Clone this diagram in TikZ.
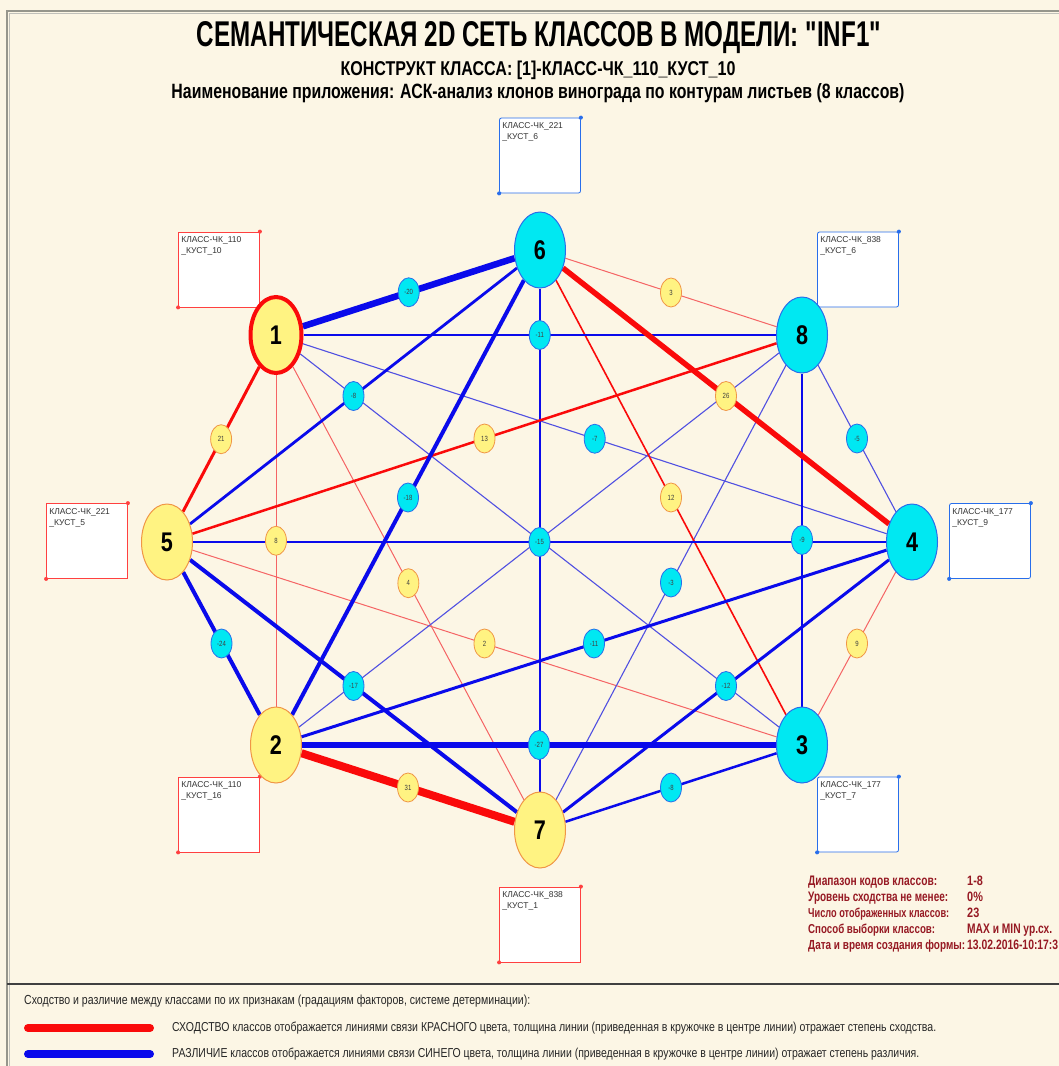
\documentclass[tikz,border=0pt]{standalone}
\usepackage{fontspec}
\usepackage{graphicx}
\setmainfont{Liberation Sans}
\newfontfamily\nar[FakeStretch=0.8]{Liberation Sans}
\newcommand\sqq{\XeTeXglyph\XeTeXcharglyph"22\relax}
\usetikzlibrary{shapes.geometric}
\pgfdeclarelayer{bgz}
\pgfdeclarelayer{edges}
\pgfsetlayers{bgz,edges,main}
\definecolor{cream}{RGB}{252,246,229}
\definecolor{ncyan}{RGB}{0,232,242}
\definecolor{nyellow}{RGB}{255,243,130}
\definecolor{lblue}{RGB}{10,10,235}
\definecolor{lred}{RGB}{250,10,10}
\definecolor{tblue}{RGB}{80,80,225}
\definecolor{tred}{RGB}{245,100,100}
\definecolor{yborder}{RGB}{240,150,70}
\definecolor{cborder}{RGB}{40,110,235}
\definecolor{dred}{RGB}{150,25,35}
\definecolor{framec}{RGB}{150,150,140}
\begin{document}
\begin{tikzpicture}[x=1pt,y=-1pt,
  big/.style={ellipse, minimum width=51pt, minimum height=76pt, inner sep=0pt, font=\fontsize{27}{27}\selectfont\nar\bfseries},
  ybig/.style={big, fill=nyellow, draw=yborder, line width=1pt},
  cbig/.style={big, fill=ncyan, draw=cborder, line width=1pt},
  lab/.style={ellipse, minimum width=21pt, minimum height=29pt, inner sep=0pt, font=\fontsize{7.5}{7.5}\selectfont\nar, text=black!75, line width=0.8pt},
  plab/.style={lab, fill=nyellow, draw=yborder},
  nlab/.style={lab, fill=ncyan, draw=cborder},
  bl/.style={draw=lblue, line width=#1},
  rl/.style={draw=lred, line width=#1},
  tbl/.style={draw=tblue, line width=1.1pt},
  trl/.style={draw=tred, line width=1pt},
  rbox/.style={draw=red!75, fill=white, line width=0.8pt, minimum width=81pt, minimum height=75pt, inner sep=0pt},
  bbox/.style={draw=cborder, fill=white, line width=0.8pt, rounded corners=2pt, minimum width=81pt, minimum height=75pt, inner sep=0pt},
  btxt/.style={anchor=north west, inner sep=0pt, xshift=3pt, yshift=-5pt, align=left, font=\fontsize{8.5}{11}\selectfont, text=black!80},
  rdot/.style={fill=red!75},
  bdot/.style={fill=cborder},
  leg/.style={anchor=base west, inner sep=0pt, text=dred},
  btm/.style={anchor=base west, inner sep=0pt, text=black!85},
]
\useasboundingbox (0,0) rectangle (1059,1066);
\begin{pgfonlayer}{bgz}
  \fill[cream] (0,0) rectangle (1059,1066);
  \draw[framec!60, line width=1pt] (9,1066) -- (9,13) -- (1059,13);
  \draw[framec, line width=2pt] (7,1066) -- (7,11) -- (1059,11);
  \draw[black!75, line width=2pt] (7,984) -- (1059,984);
\end{pgfonlayer}

% titles
\node[anchor=base, inner sep=0pt] (title) at (539,46) {\resizebox{684pt}{25pt}{\bfseries СЕМАНТИЧЕСКАЯ 2D СЕТЬ КЛАССОВ В МОДЕЛИ: \sqq INF1\sqq}};
\node[anchor=base, inner sep=0pt] (sub1) at (538,75) {\resizebox{395pt}{14.5pt}{\bfseries КОНСТРУКТ КЛАССА: [1]-КЛАСС-ЧК\_110\_КУСТ\_10}};
\node[anchor=base, inner sep=0pt] (sub2) at (538,98) {\resizebox{733pt}{15pt}{\bfseries Наименование приложения: АСК-анализ клонов винограда по контурам листьев (8 классов)}};

% label boxes
\node[bbox] (b6) at (540,155.5) {};
\node[btxt] (t6) at (b6.north west) {КЛАСС-ЧК\_221\\\_КУСТ\_6};
\node[rbox] (b1) at (219,269.5) {};
\node[btxt] (t1) at (b1.north west) {КЛАСС-ЧК\_110\\\_КУСТ\_10};
\node[bbox] (b8) at (858,269.5) {};
\node[btxt] (t8) at (b8.north west) {КЛАСС-ЧК\_838\\\_КУСТ\_6};
\node[rbox] (b5) at (87,541) {};
\node[btxt] (t5) at (b5.north west) {КЛАСС-ЧК\_221\\\_КУСТ\_5};
\node[bbox] (b4) at (990,541) {};
\node[btxt] (t4) at (b4.north west) {КЛАСС-ЧК\_177\\\_КУСТ\_9};
\node[rbox] (b2) at (219,814.5) {};
\node[btxt] (t2) at (b2.north west) {КЛАСС-ЧК\_110\\\_КУСТ\_16};
\node[bbox] (b3) at (858,814.5) {};
\node[btxt] (t3) at (b3.north west) {КЛАСС-ЧК\_177\\\_КУСТ\_7};
\node[rbox] (b7) at (540,924.5) {};
\node[btxt] (t7) at (b7.north west) {КЛАСС-ЧК\_838\\\_КУСТ\_1};
\foreach \b in {b1,b5,b2,b7} {\fill[rdot] (\b.north east) circle (2pt); \fill[rdot] (\b.south west) circle (2pt);}
\foreach \b in {b6,b8,b4,b3} {\fill[bdot] (\b.north east) circle (2pt); \fill[bdot] (\b.south west) circle (2pt);}

% class nodes
\node[ybig, draw=lred, line width=4pt] (n1) at (276,335) {1};
\node[cbig] (n6) at (540,250) {6};
\node[cbig] (n8) at (802,335) {8};
\node[cbig] (n4) at (912,542) {4};
\node[cbig] (n3) at (802,745) {3};
\node[ybig] (n7) at (540,830) {7};
\node[ybig] (n2) at (276,745) {2};
\node[ybig] (n5) at (167,542) {5};

% edges
\begin{pgfonlayer}{edges}
  \draw[trl] (n1) -- (n2);
  \draw[trl] (n1) -- (n7);
  \draw[trl] (n6) -- (n8);
  \draw[trl] (n5) -- (n3);
  \draw[trl] (n4) -- (n3);
  \draw[tbl] (n1) -- (n4);
  \draw[tbl] (n1) -- (n3);
  \draw[tbl] (n8) -- (n4);
  \draw[tbl] (n8) -- (n2);
  \draw[tbl] (n8) -- (n7);
  \draw[rl=1.6pt] (n6) -- (n3);
  \draw[bl=2pt] (n8) -- (n3);
  \draw[bl=2.5pt] (n1) -- (n8);
  \draw[bl=2.5pt] (n6) -- (n7);
  \draw[bl=2.5pt] (n5) -- (n4);
  \draw[bl=2.5pt] (n3) -- (n7);
  \draw[rl=2.5pt] (n8) -- (n5);
  \draw[bl=2.8pt] (n6) -- (n5);
  \draw[bl=3pt] (n4) -- (n2);
  \draw[bl=3pt] (n4) -- (n7);
  \draw[rl=3pt] (n1) -- (n5);
  \draw[bl=4pt] (n6) -- (n2);
  \draw[bl=4pt] (n5) -- (n2);
  \draw[bl=4pt] (n5) -- (n7);
  \draw[bl=6pt] (n2) -- (n3);
  \draw[rl=5.5pt] (n6) -- (n4);
  \draw[bl=6.5pt] (n1) -- (n6);
  \draw[rl=8pt] (n2) -- (n7);
\end{pgfonlayer}

% edge labels
\path (n1) -- (n6) node[midway, nlab] (e16) {-20};
\path (n1) -- (n8) node[midway, nlab] (e18) {-11};
\path (n1) -- (n5) node[midway, plab] (e15) {21};
\path (n1) -- (n2) node[midway, plab] (e12) {8};
\path (n1) -- (n7) node[midway, plab] (e17) {4};
\path (n1) -- (n4) node[midway, nlab] (e14) {-7};
\path (n6) -- (n8) node[midway, plab] (e68) {3};
\path (n6) -- (n4) node[midway, plab] (e64) {26};
\path (n6) -- (n3) node[midway, plab] (e63) {12};
\path (n6) -- (n2) node[midway, nlab] (e62) {-18};
\path (n6) -- (n5) node[midway, nlab] (e65) {-8};
\path (n8) -- (n5) node[midway, plab] (e85) {13};
\path (n8) -- (n4) node[midway, nlab] (e84) {-5};
\path (n8) -- (n3) node[midway, nlab] (e83) {-9};
\path (n8) -- (n7) node[midway, nlab] (e87) {-3};
\path (n5) -- (n4) node[midway, nlab] (e54) {-15};
\path (n5) -- (n3) node[midway, plab] (e53) {2};
\path (n5) -- (n2) node[midway, nlab] (e52) {-24};
\path (n5) -- (n7) node[midway, nlab] (e57) {-17};
\path (n4) -- (n2) node[midway, nlab] (e42) {-11};
\path (n4) -- (n3) node[midway, plab] (e43) {9};
\path (n4) -- (n7) node[midway, nlab] (e47) {-12};
\path (n2) -- (n3) node[midway, nlab] (e23) {-27};
\path (n2) -- (n7) node[midway, plab] (e27) {31};
\path (n3) -- (n7) node[midway, nlab] (e37) {-8};

% right-bottom legend
\node[leg] (g1) at (808,885) {\resizebox{129pt}{9.5pt}{\bfseries Диапазон кодов классов:}};
\node[leg] (v1) at (967,885) {\resizebox{!}{9.5pt}{\bfseries\nar 1-8}};
\node[leg] (g2) at (808,901) {\resizebox{140pt}{9.5pt}{\bfseries Уровень сходства не менее:}};
\node[leg] (v2) at (967,901) {\resizebox{!}{9.5pt}{\bfseries\nar 0\%}};
\node[leg] (g3) at (808,917) {\resizebox{141pt}{9.5pt}{\bfseries Число отображенных классов:}};
\node[leg] (v3) at (967,917) {\resizebox{!}{9.5pt}{\bfseries\nar 23}};
\node[leg] (g4) at (808,933) {\resizebox{127pt}{9.5pt}{\bfseries Способ выборки классов:}};
\node[leg] (v4) at (967,933) {\resizebox{85pt}{9.5pt}{\bfseries MAX и MIN ур.сх.}};
\node[leg] (g5) at (808,949) {\resizebox{157pt}{9.5pt}{\bfseries Дата и время создания формы:}};
\node[leg] (v5) at (967,949) {\resizebox{91pt}{9.5pt}{\bfseries 13.02.2016-10:17:3}};

% bottom legend
\node[btm] (h0) at (24,1004) {\resizebox{506pt}{9.5pt}{Сходство и различие между классами по их признакам (градациям факторов, системе детерминации):}};
\coordinate (rA) at (28,1028);
\coordinate (rB) at (150,1028);
\coordinate (bA) at (28,1054);
\coordinate (bB) at (150,1054);
\draw[lred, line width=8pt, line cap=round] (rA) -- (rB);
\draw[lblue, line width=8pt, line cap=round] (bA) -- (bB);
\node[btm] (h1) at (172,1031) {\resizebox{764pt}{9.5pt}{СХОДСТВО классов отображается линиями связи КРАСНОГО цвета, толщина линии (приведенная в кружочке в центре линии) отражает степень сходства.}};
\node[btm] (h2) at (172,1057) {\resizebox{747pt}{9.5pt}{РАЗЛИЧИЕ классов отображается линиями связи СИНЕГО цвета, толщина линии  (приведенная в кружочке в центре линии) отражает степень различия.}};
\end{tikzpicture}
\end{document}
